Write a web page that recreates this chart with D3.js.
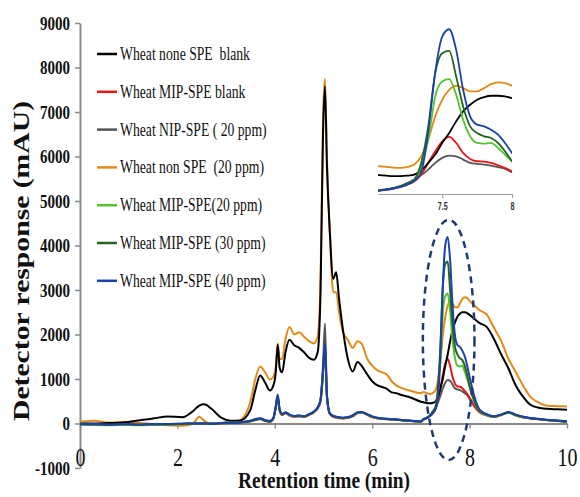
<!DOCTYPE html>
<html>
<head>
<meta charset="utf-8">
<script src="https://cdn.jsdelivr.net/npm/d3@7"></script>
<style>
  html, body { margin: 0; padding: 0; background: #fff; }
  svg { display: block; }
</style>
</head>
<body>
<script>
// ---------------- DATA ----------------
const times = [
  0, 0.3, 0.6, 0.9, 1.2, 1.5, 1.8, 2.1,
  2.3, 2.45, 2.55, 2.7, 2.9, 3.1, 3.3, 3.5, 3.6, 3.7, 3.8, 3.9,
  3.97, 4.02, 4.06, 4.1, 4.15, 4.22, 4.3, 4.4, 4.5, 4.6, 4.7, 4.8,
  4.88, 4.94, 4.99, 5.03, 5.07, 5.13, 5.2, 5.26, 5.32, 5.4, 5.5, 5.6,
  5.7, 5.78, 5.9, 6.0, 6.1, 6.2, 6.3, 6.4, 6.5, 6.6, 6.8, 7.0,
  7.05, 7.1, 7.15, 7.2, 7.25, 7.3, 7.35, 7.4, 7.45, 7.5, 7.55, 7.6,
  7.65, 7.7, 7.75, 7.8, 7.85, 7.9, 7.95, 8.0, 8.1, 8.2, 8.35, 8.5,
  8.65, 8.8, 8.95, 9.1, 9.25, 9.4, 9.6, 9.8, 10.0
];

const wheatNoneBlank = [
  0, 0, 10, 20, 70, 110, 160, 140,
  260, 400, 430, 330, 130, 60, 70, 310, 750, 1080, 920, 740,
  850, 1150, 1770, 1250, 1150, 1600, 1880, 1760, 1700, 1600, 1480, 1430,
  1600, 3000, 6500, 7580, 5800, 4300, 3250, 3400, 2800, 2100, 1450, 1170,
  1380, 1300, 1100, 950, 860, 820, 780, 700, 680, 640, 580, 490,
  478, 465, 455, 453, 465, 495, 600, 791, 1003, 1299, 1552, 1848,
  2102, 2271, 2398, 2466, 2500, 2500, 2483, 2441, 2350, 2260, 2170, 1900,
  1550, 1230, 850, 600, 420, 360, 330, 320, 310
];

const wheatMipBlank = [
  -10, -10, -20, -10, -10, -20, -20, -10,
  0, 0, 0, 0, 10, 20, 30, 50, 80, 100, 60, 40,
  110, 350, 580, 280, 190, 230, 180, 150, 160, 150, 190, 250,
  340, 500, 1100, 1750, 600, 210, 150, 130, 120, 115, 125, 160,
  230, 240, 190, 140, 115, 105, 95, 90, 85, 75, 55, 40,
  89, 110, 140, 180, 240, 326, 500, 791, 1087, 1341, 1451, 1299,
  1045, 893, 833, 825, 791, 732, 664, 580, 390, 260, 180, 150,
  190, 240, 180, 135, 115, 95, 75, 55, 40
];

const wheatNip20 = [
  0, -10, -10, 0, 0, -10, -20, -10,
  0, 0, 0, 0, 10, 20, 30, 60, 90, 110, 70, 50,
  120, 380, 600, 300, 200, 240, 190, 160, 170, 150, 200, 260,
  360, 550, 1300, 2250, 650, 220, 160, 140, 130, 120, 130, 170,
  240, 250, 200, 150, 120, 110, 100, 95, 90, 80, 60, 45,
  89, 115, 150, 200, 280, 368, 480, 622, 791, 918, 977, 960,
  876, 791, 766, 749, 723, 681, 639, 554, 380, 260, 190, 160,
  200, 250, 190, 140, 120, 100, 80, 60, 40
];

const wheatNon20 = [
  40, 60, 20, 40, 10, -20, -40, -50,
  -20, 150, 60, 0, 0, 10, 80, 500, 1000, 1280, 1150, 990,
  1050, 1300, 1800, 1450, 1450, 1900, 2170, 2000, 2050, 1950, 1850, 1800,
  1950, 3300, 6900, 7750, 6000, 4300, 2950, 2950, 2500, 2050, 1880, 1700,
  1850, 1800, 1450, 1300, 1200, 1150, 1100, 950, 850, 800, 730, 680,
  706, 690, 670, 664, 690, 749, 960, 1383, 1975, 2398, 2652, 2754,
  2695, 2610, 2610, 2695, 2796, 2838, 2822, 2754, 2650, 2550, 2450, 2150,
  1850, 1450, 1150, 850, 600, 480, 400, 390, 380
];

const wheatMip20 = [
  0, -20, -40, -30, -40, -30, -20, -10,
  0, 0, 0, 0, 10, 20, 30, 60, 90, 110, 70, 50,
  110, 360, 600, 290, 200, 240, 190, 160, 170, 150, 200, 260,
  350, 520, 1150, 1800, 620, 220, 160, 140, 130, 120, 130, 170,
  240, 250, 200, 150, 120, 110, 100, 90, 85, 75, 55, 40,
  95, 115, 145, 190, 260, 360, 700, 1383, 2483, 2864, 2923, 2525,
  1890, 1468, 1299, 1282, 1299, 1172, 1003, 833, 480, 280, 190, 150,
  190, 240, 180, 140, 120, 100, 80, 60, 40
];

const wheatMip30 = [
  -20, -30, -30, -20, -30, -20, -20, -10,
  0, 0, 0, -10, 0, 10, 20, 50, 80, 100, 60, 40,
  110, 370, 620, 300, 210, 250, 200, 170, 180, 160, 200, 260,
  350, 520, 1150, 1800, 630, 230, 170, 150, 140, 130, 140, 180,
  250, 260, 210, 160, 130, 115, 105, 95, 85, 75, 55, 40,
  100, 120, 150, 200, 270, 368, 800, 1721, 3074, 3583, 3640, 2990,
  2229, 1721, 1552, 1468, 1425, 1298, 1087, 833, 500, 290, 200, 160,
  200, 250, 190, 150, 120, 100, 80, 60, 40
];

const wheatMip40 = [
  -10, -10, -20, -10, -20, -10, -10, 0,
  0, 0, 0, 0, 10, 20, 30, 60, 100, 120, 80, 60,
  120, 400, 650, 320, 220, 250, 200, 170, 180, 160, 210, 270,
  360, 540, 1200, 1800, 640, 230, 170, 150, 140, 130, 140, 180,
  250, 260, 210, 160, 130, 115, 105, 95, 90, 80, 60, 50,
  89, 110, 140, 180, 240, 326, 560, 1600, 3100, 4006, 4192, 3667,
  2652, 1975, 1764, 1722, 1637, 1510, 1299, 1045, 600, 320, 210, 160,
  200, 260, 200, 150, 125, 105, 85, 65, 50
];

const legendLabels = [
  "Wheat none SPE  blank",
  "Wheat MIP-SPE blank",
  "Wheat NIP-SPE ( 20 ppm)",
  "Wheat non SPE  (20 ppm)",
  "Wheat MIP-SPE(20 ppm)",
  "Wheat MIP-SPE (30 ppm)",
  "Wheat MIP-SPE (40 ppm)"
];

const xTicks = [0, 2, 4, 6, 8, 10];
const yTicks = [-1000, 0, 1000, 2000, 3000, 4000, 5000, 6000, 7000, 8000, 9000];
const insetXTicks = [7.5, 8];
const xTitle = "Retention time (min)";
const yTitle = "Detector response (mAU)";
// dashed highlight ellipse: centre [min, mAU] and radii [min, mAU]
const ellipseCentre = [7.57, 1880];
const ellipseRadii = [0.53, 2700];

// ---------------- STYLE ----------------
const seriesValues = [wheatNoneBlank, wheatMipBlank, wheatNip20, wheatNon20, wheatMip20, wheatMip30, wheatMip40];
const seriesColors = ["#000000", "#e8161c", "#555555", "#e38a18", "#55c22c", "#23661f", "#1c3fae"];
const drawOrder = [2, 1, 3, 0, 4, 5, 6];
const serif = "'Liberation Serif','Times New Roman',serif";
const sans = "'Liberation Sans',Arial,sans-serif";
const axisGrey = "#8a8a8a";

const W = 580, H = 497;
const svg = d3.select("body").append("svg").attr("width", W).attr("height", H);

const x = d3.scaleLinear().domain([0, 10]).range([80, 567]);
const y = d3.scaleLinear().domain([-1000, 9000]).range([468, 23]);

function condense(sel, k) {
  sel.each(function () {
    const L = this.getComputedTextLength();
    d3.select(this).attr("textLength", L * k).attr("lengthAdjust", "spacingAndGlyphs");
  });
}

// ---------------- AXES ----------------
const gy = svg.append("g").attr("transform", `translate(${x(0)},0)`)
  .call(d3.axisLeft(y).tickValues(yTicks).tickSize(5).tickSizeOuter(0).tickPadding(5).tickFormat(d => String(d)));
gy.select(".domain").attr("stroke", axisGrey).attr("stroke-width", 2);
gy.selectAll(".tick line").attr("stroke", axisGrey).attr("stroke-width", 1.5);
gy.selectAll(".tick text").attr("font-family", serif).attr("font-size", 19).attr("font-weight", "bold").attr("fill", "#111");
condense(gy.selectAll(".tick text"), 0.79);

const gx = svg.append("g").attr("transform", `translate(0,${y(0)})`)
  .call(d3.axisBottom(x).tickValues(xTicks).tickSize(5).tickSizeOuter(0).tickFormat(d => String(d)));
gx.select(".domain").attr("stroke", axisGrey).attr("stroke-width", 2);
gx.selectAll(".tick line").attr("stroke", axisGrey).attr("stroke-width", 1.5);
gx.selectAll(".tick text").attr("font-family", serif).attr("font-size", 25).attr("fill", "#111")
  .attr("y", 42).attr("dy", 0);
condense(gx.selectAll(".tick text"), 0.8);

svg.append("text").attr("x", 324).attr("y", 488).attr("text-anchor", "middle")
  .attr("font-family", serif).attr("font-size", 23).attr("font-weight", "bold").attr("fill", "#111")
  .attr("textLength", 172).attr("lengthAdjust", "spacingAndGlyphs").text(xTitle);

svg.append("text").attr("transform", "translate(29,261) rotate(-90) scale(1,0.78)")
  .attr("text-anchor", "middle")
  .attr("font-family", serif).attr("font-size", 30).attr("font-weight", "bold").attr("fill", "#111")
  .attr("textLength", 320).attr("lengthAdjust", "spacingAndGlyphs").text(yTitle);

// ---------------- MAIN LINES ----------------
const line = d3.line().x((d, i) => x(times[i])).y(d => y(d)).curve(d3.curveMonotoneX);
const gLines = svg.append("g");
drawOrder.forEach(s => {
  gLines.append("path").datum(seriesValues[s])
    .attr("d", line).attr("fill", "none")
    .attr("stroke", seriesColors[s]).attr("stroke-width", 2).attr("stroke-linejoin", "round");
});

// dashed ellipse
svg.append("ellipse")
  .attr("cx", x(ellipseCentre[0])).attr("cy", y(ellipseCentre[1]))
  .attr("rx", x(ellipseCentre[0] + ellipseRadii[0]) - x(ellipseCentre[0]))
  .attr("ry", y(0) - y(ellipseRadii[1]))
  .attr("fill", "none").attr("stroke", "#213a72").attr("stroke-width", 2.5)
  .attr("stroke-dasharray", "7,5");

// ---------------- LEGEND ----------------
const leg = svg.append("g");
legendLabels.forEach((lab, i) => {
  const yy = 54 + i * 37.8;
  leg.append("line").attr("x1", 97).attr("x2", 117).attr("y1", yy).attr("y2", yy)
    .attr("stroke", seriesColors[i]).attr("stroke-width", 2.5);
  leg.append("text").attr("x", 120).attr("y", yy + 6)
    .attr("font-family", serif).attr("font-size", 19).attr("fill", "#111")
    .style("white-space", "pre").text(lab);
});
condense(leg.selectAll("text"), 0.72);

// ---------------- INSET ----------------
const xi = d3.scaleLinear().domain([7.04, 8.0]).range([378, 512]);
const yi = d3.scaleLinear().domain([0, 4300]).range([194, 25]);
svg.append("clipPath").attr("id", "insetClip").append("rect")
  .attr("x", xi(7.04)).attr("y", 0).attr("width", xi(8.0) - xi(7.04)).attr("height", yi(0) + 2);
const gi = svg.append("g");
const gia = gi.append("g").attr("transform", `translate(0,${yi(0)})`)
  .call(d3.axisBottom(xi).tickValues(insetXTicks).tickSize(4).tickSizeOuter(0).tickPadding(5).tickFormat(d => String(d)));
gia.select(".domain").attr("stroke", "#a0a0a0").attr("stroke-width", 1.2);
gia.selectAll(".tick line").attr("stroke", "#a0a0a0").attr("stroke-width", 1.2);
gia.selectAll(".tick text").attr("font-family", sans).attr("font-size", 10).attr("font-weight", "bold").attr("fill", "#333");
condense(gia.selectAll(".tick text"), 0.72);

const lineI = d3.line()
  .defined((d, i) => times[i] >= 7.0 && times[i] <= 8.1)
  .x((d, i) => xi(times[i])).y(d => yi(d)).curve(d3.curveMonotoneX);
const gil = gi.append("g").attr("clip-path", "url(#insetClip)");
drawOrder.forEach(s => {
  gil.append("path").datum(seriesValues[s])
    .attr("d", lineI).attr("fill", "none")
    .attr("stroke", seriesColors[s]).attr("stroke-width", 1.8).attr("stroke-linejoin", "round");
});
</script>
</body>
</html>
